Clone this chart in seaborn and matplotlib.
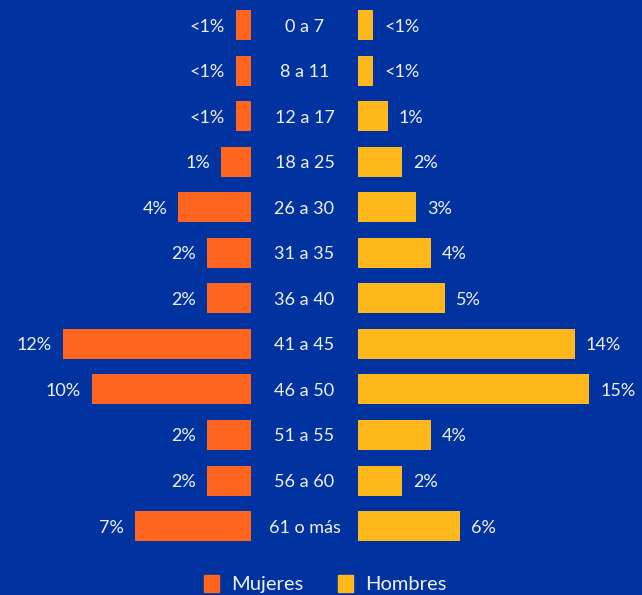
import matplotlib
matplotlib.use("Agg")
import matplotlib.pyplot as plt
import matplotlib.transforms as mtransforms
from matplotlib.patches import Patch
import seaborn as sns

# Age groups and share of each sex (in %, 0 stands for "<1%")
age_groups = ["0 a 7", "8 a 11", "12 a 17", "18 a 25", "26 a 30", "31 a 35",
              "36 a 40", "41 a 45", "46 a 50", "51 a 55", "56 a 60", "61 o más"]
mujeres = [0, 0, 0, 1, 4, 2, 2, 12, 10, 2, 2, 7]
hombres = [0, 0, 1, 2, 3, 4, 5, 14, 15, 4, 2, 6]

BG = "#0033A0"
ORANGE = "#FF651F"
YELLOW = "#FFB81C"
TEXT = "#EEF1F8"

W, H = 642, 595
PX_PER_PCT = 14.4
STUB = 1.05          # minimum bar length drawn for every group
ROW_PX = 45.55
FIRST_ROW_PX = 25
FS = 13

sns.set_theme(style="white")
plt.rcParams["font.family"] = ["Lato", "DejaVu Sans"]

fig = plt.figure(figsize=(W / 100, H / 100), dpi=100, facecolor=BG)

left_edge, right_start = 251, 358
ax_l = fig.add_axes([0, 0, left_edge / W, 1])
ax_r = fig.add_axes([right_start / W, 0, (W - right_start) / W, 1])

ylim = ((H - FIRST_ROW_PX) / ROW_PX, -FIRST_ROW_PX / ROW_PX)


def fmt(v):
    return "<1%" if v < 1 else f"{v}%"


for ax, vals, color, side in [(ax_l, mujeres, ORANGE, -1), (ax_r, hombres, YELLOW, 1)]:
    lengths = [STUB + v for v in vals]
    sns.barplot(x=lengths, y=age_groups, orient="h", color=color,
                width=30 / ROW_PX, saturation=1, linewidth=0, ax=ax)
    ax.set_facecolor(BG)
    ax.set_ylim(*ylim)
    ax.axis("off")
    for i, (length, v) in enumerate(zip(lengths, vals)):
        ax.annotate(fmt(v), xy=(length, i), xytext=(side * 8.0, 0),
                    textcoords="offset points", ha="left" if side > 0 else "right",
                    va="center_baseline", color=TEXT, fontsize=FS)

ax_l.set_xlim(left_edge / PX_PER_PCT, 0)
ax_r.set_xlim(0, (W - right_start) / PX_PER_PCT)

# centre labels for age groups
trans = mtransforms.blended_transform_factory(fig.transFigure, ax_r.transData)
for i, g in enumerate(age_groups):
    fig.text((left_edge + right_start) / 2 / W, i, g, transform=trans,
             ha="center", va="center_baseline", color=TEXT, fontsize=FS)

handles = [Patch(color=ORANGE, label="Mujeres"), Patch(color=YELLOW, label="Hombres")]
fig.legend(handles=handles, loc="center", bbox_to_anchor=(325 / W, 1 - 584 / H),
           ncol=2, frameon=False, fontsize=14.5, labelcolor=TEXT,
           handlelength=0.75, handleheight=0.9, handletextpad=0.6,
           columnspacing=1.7)

fig.savefig("out.png", dpi=100, facecolor=BG)
